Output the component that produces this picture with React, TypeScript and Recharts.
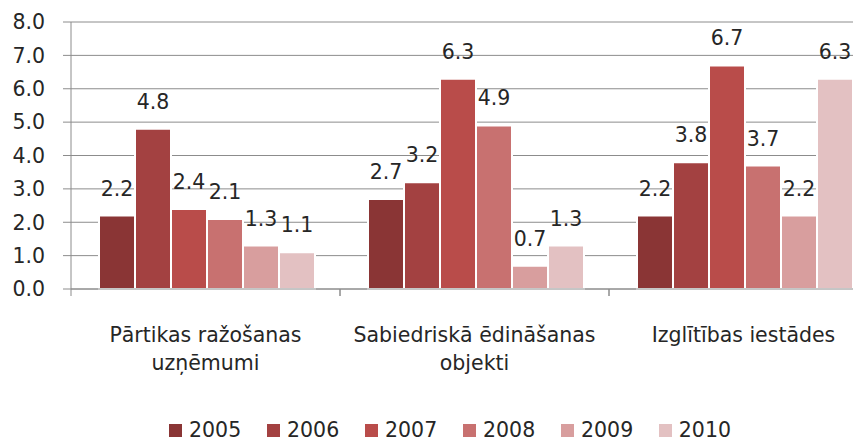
import { BarChart, Bar, XAxis, YAxis, CartesianGrid, Legend, LabelList } from "recharts";

const categories = ["Pārtikas ražošanas|uzņēmumi", "Sabiedriskā ēdināšanas|objekti", "Izglītības iestādes"];
const years = ["2005", "2006", "2007", "2008", "2009", "2010"];
const v2005 = [2.2, 2.7, 2.2];
const v2006 = [4.8, 3.2, 3.8];
const v2007 = [2.4, 6.3, 6.7];
const v2008 = [2.1, 4.9, 3.7];
const v2009 = [1.3, 0.7, 2.2];
const v2010 = [1.1, 1.3, 6.3];
const yTicks = [0, 1, 2, 3, 4, 5, 6, 7, 8];

const colors = ["#8a3535", "#a34141", "#b94c4a", "#c87170", "#d89e9e", "#e3c1c2"];
const series = [v2005, v2006, v2007, v2008, v2009, v2010];

const data = categories.map((c, i) => {
  const row: Record<string, string | number> = { name: c };
  years.forEach((y, k) => {
    row[y] = series[k][i];
  });
  return row;
});

const FONT = "'DejaVu Sans', sans-serif";
const FS = 20.5;
const TEXT = "#262626";
const GRID = "#8c8c8c";
const BAND = 269;

const CatTick = (props: any) => {
  const { x, y, payload } = props;
  const lines = String(payload.value).split("|");
  return (
    <g>
      <line x1={x - BAND / 2} y1={y} x2={x - BAND / 2} y2={y + 7} stroke={GRID} />
      <line x1={x + BAND / 2} y1={y} x2={x + BAND / 2} y2={y + 7} stroke={GRID} />
      {lines.map((l, i) => (
        <text key={i} x={x} y={y + 53 + i * 28} textAnchor="middle" fontSize={FS} fontFamily={FONT} fill={TEXT}>
          {l}
        </text>
      ))}
    </g>
  );
};

const LegendBox = (props: any) => {
  const items = props.payload || [];
  return (
    <div style={{ display: "flex", justifyContent: "center", fontFamily: FONT, fontSize: FS, color: TEXT, height: 24, alignItems: "center" }}>
      {items.map((it: any, i: number) => (
        <div key={i} style={{ display: "flex", alignItems: "center", width: i < items.length - 1 ? 98 : 72 }}>
          <span style={{ width: 13, height: 13, background: it.color, display: "inline-block", marginRight: 7 }} />
          <span>{it.value}</span>
        </div>
      ))}
    </div>
  );
};

export default function App() {
  return (
    <div style={{ position: "absolute", left: 0, top: 0, width: 853, height: 441, overflow: "hidden", background: "#fff" }}>
      <BarChart
        width={880}
        height={441}
        data={data}
        margin={{ top: 22, right: 2, left: 0, bottom: 0 }}
        barCategoryGap={28}
        barGap={0}
      >
        <CartesianGrid vertical={false} stroke={GRID} />
        <XAxis
          dataKey="name"
          tick={<CatTick />}
          tickLine={false}
          tickSize={0}
          tickMargin={0}
          height={128}
          axisLine={{ stroke: GRID }}
          interval={0}
        />
        <YAxis
          domain={[0, 8]}
          ticks={yTicks}
          width={71}
          tickSize={8}
          tickMargin={18}
          tickLine={{ stroke: GRID }}
          axisLine={{ stroke: GRID }}
          tickFormatter={(v: number) => v.toFixed(1)}
          tick={{ fill: TEXT, fontSize: FS, fontFamily: FONT }}
        />
        <Legend content={<LegendBox />} verticalAlign="bottom" height={24} wrapperStyle={{ left: 11, bottom: -1 }} />
        {years.map((y, k) => (
          <Bar key={y} dataKey={y} fill={colors[k]} stroke="#fff" strokeWidth={2} isAnimationActive={false}>
            <LabelList
              dataKey={y}
              position="top"
              offset={20}
              formatter={(v: any) => Number(v).toFixed(1)}
              style={{ fill: TEXT, fontSize: FS, fontFamily: FONT }}
            />
          </Bar>
        ))}
      </BarChart>
    </div>
  );
}
